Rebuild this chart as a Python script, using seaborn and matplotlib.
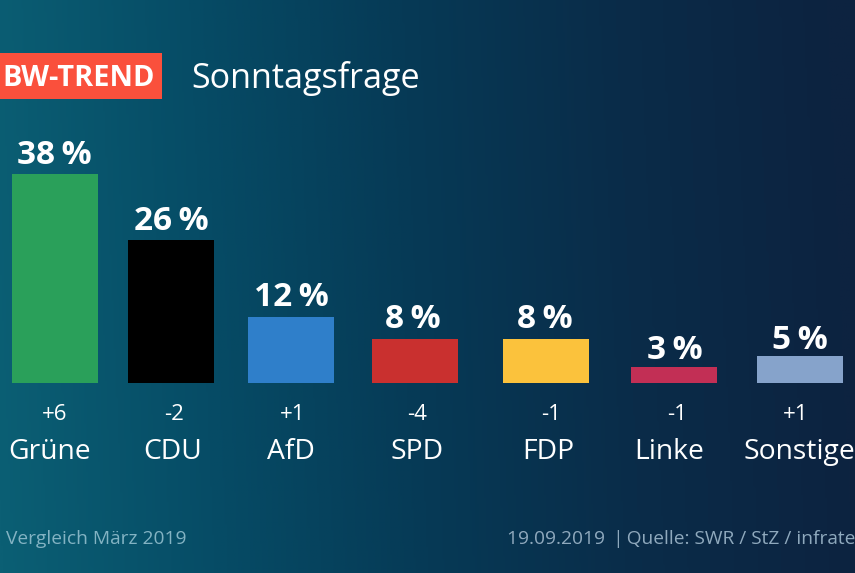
import numpy as np
import pandas as pd
import matplotlib
matplotlib.use("Agg")
import matplotlib.pyplot as plt
from matplotlib.colors import LinearSegmentedColormap
from matplotlib.patches import Rectangle
import seaborn as sns

parties = ["Grüne", "CDU", "AfD", "SPD", "FDP", "Linke", "Sonstige"]
shares = [38, 26, 12, 8, 8, 3, 5]
changes = ["+6", "-2", "+1", "-4", "-1", "-1", "+1"]
bar_colors = ["#2aa05a", "#000000", "#2f7fca", "#c9302f", "#fbc23c", "#c22f55", "#86a3cb"]

W, H = 855, 573
PX_PER_PCT = 5.5
BASE_PY = 383

# layout of the original (pixels)
bar_x = [55, 171, 291, 415, 546, 674, 800]
share_x = [54, 171, 291, 413, 545, 675, 800]
share_gap = [19, 19, 19, 19, 19, 16, 15]
change_x = [55, 174, 293, 417, 551, 677, 796]
name_x = [50, 173, 291, 417, 548, 669, 799]

sns.set_theme(style="white")
plt.rcParams["font.family"] = ["Open Sans", "DejaVu Sans"]

fig = plt.figure(figsize=(W / 100, H / 100), dpi=100)

# background gradient
bg = fig.add_axes([0, 0, 1, 1], zorder=0)
cmap = LinearSegmentedColormap.from_list(
    "bg", ["#0b5f74", "#064c66", "#063a56", "#0a2c49", "#0d2340"])
xx, yy = np.meshgrid(np.linspace(0, 1, 400), np.linspace(0, 1, 200))
bg.imshow(np.clip(xx - 0.03 * (1 - yy) + 0.03, 0, 1), cmap=cmap, aspect="auto",
          origin="lower", extent=(0, 1, 0, 1), vmin=0, vmax=1)
bg.set_axis_off()

ax = fig.add_axes([0, 0, 1, 1], zorder=1)
ax.patch.set_alpha(0)
df = pd.DataFrame({"x": bar_x, "share": shares, "party": parties})
sns.barplot(data=df, x="x", y="share", hue="party", palette=bar_colors, dodge=False,
            native_scale=True, width=86 / 116, legend=False, saturation=1,
            ax=ax, linewidth=0)
ax.set_xlim(0, W)
ax.set_ylim(-(H - BASE_PY) / PX_PER_PCT, BASE_PY / PX_PER_PCT)
ax.set_axis_off()


def px_text(x, y, s, **kw):
    kw.setdefault("ha", "center")
    kw.setdefault("va", "center")
    kw.setdefault("color", "white")
    return ax.text(x / W, 1 - y / H, s, transform=ax.transAxes, **kw)


for i, v in enumerate(shares):
    py = BASE_PY - v * PX_PER_PCT
    ax.text(share_x[i] / W, 1 - (py - share_gap[i]) / H, f"{v}\u2009%", transform=ax.transAxes,
            ha="center", va="center", color="white", fontsize=24, fontweight="bold")
    px_text(change_x[i], 415, changes[i], fontsize=16)
    px_text(name_x[i], 452, parties[i], fontsize=20.3)

ax.add_patch(Rectangle((0, 1 - 98.5 / H), 162 / W, 45.5 / H, transform=ax.transAxes,
                       color="#fa503c", lw=0))
px_text(78.5, 79, "BW-TREND", fontsize=20.8, fontweight="bold")
px_text(191, 78, "Sonntagsfrage", fontsize=24.6, ha="left")
px_text(6, 539, "Vergleich März 2019", fontsize=13.8, ha="left", color="#83b3c3")
px_text(507, 539, "19.09.2019 \u2009|\u2009Quelle: SWR / StZ / infrate", fontsize=13.75,
        ha="left", color="#8fa9bd")

fig.savefig("out.png", dpi=100)
